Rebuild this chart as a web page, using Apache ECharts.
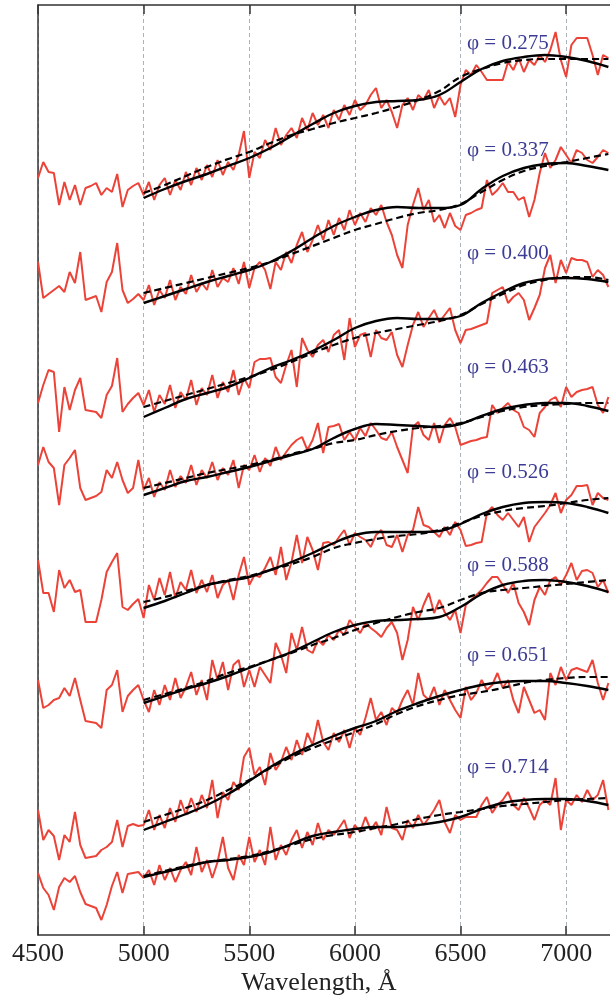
<!DOCTYPE html>
<html><head><meta charset="utf-8">
<script src="https://cdn.jsdelivr.net/npm/echarts@6/dist/echarts.min.js"></script>
<style>html,body{margin:0;padding:0;background:#fff}#chart{width:610px;height:999px}</style>
</head><body><div id="chart"></div>
<script>
// Wavelength grid of the observed spectra (Å)
const wavelength = [
4500,4525,4550,4575,4600,4625,4650,4675,4700,4725,4750,4775,4800,4825,4850,4875,4900,4925,4950,4975,
5000,5025,5050,5075,5100,5125,5150,5175,5200,5225,5250,5275,5300,5325,5350,5375,5400,5425,5450,5475,
5500,5525,5550,5575,5600,5625,5650,5675,5700,5725,5750,5775,5800,5825,5850,5875,5900,5925,5950,5975,
6000,6025,6050,6075,6100,6125,6150,6175,6200,6225,6250,6275,6300,6325,6350,6375,6400,6425,6450,6475,
6500,6525,6550,6575,6600,6625,6650,6675,6700,6725,6750,6775,6800,6825,6850,6875,6900,6925,6950,6975,
7000,7025,7050,7075,7100,7125,7150,7175,7200];
// Wavelength grid of the model curves (Å)
const modelWavelength = [5000,5100,5200,5300,5400,5500,5600,5700,5800,5900,6000,6100,6200,6300,6400,6500,6600,6700,6800,6900,7000,7100,7200];
const phases = ['0.275','0.337','0.400','0.463','0.526','0.588','0.651','0.714'];
const xTickLabels = [4500,5000,5500,6000,6500,7000];

// Observed spectra (relative flux, shifted, arbitrary units)
const flux_0275 = [
757,773,763,762,730,753,735,750,730,747,749,752,740,747,743,761,728,745,749,752,
740,753,735,750,757,740,755,745,763,750,767,755,770,758,775,760,773,765,780,804,
757,783,777,795,785,807,790,800,807,797,817,805,822,810,820,807,825,815,830,820,
835,825,830,840,847,827,835,823,807,830,837,825,840,835,845,827,839,830,837,818,
850,865,860,870,863,855,855,855,855,873,865,877,863,875,870,880,873,885,903,875,
858,890,897,897,897,880,860,880,877];
const flux_0337 = [
673,637,641,645,649,643,663,652,683,635,637,639,623,653,663,692,645,632,636,641,
635,650,630,645,637,655,635,648,641,660,643,652,645,665,648,657,653,667,651,673,
647,667,673,665,646,673,665,683,672,690,703,683,695,710,695,715,700,717,705,725,
710,722,713,727,720,730,713,700,680,667,710,730,747,725,735,713,720,707,722,709,
705,720,722,725,727,755,740,745,752,743,743,735,738,718,735,762,782,767,775,788,
780,772,785,782,775,772,778,785,782];
const flux_0400 = [
532,550,565,563,503,548,525,545,557,525,524,523,517,540,549,577,523,531,537,542,
530,545,523,540,531,550,527,543,535,555,530,547,540,560,537,553,543,565,540,557,
547,573,576,576,577,558,552,570,585,548,597,585,578,590,595,583,600,605,575,617,
588,600,602,578,605,597,595,603,580,568,590,610,623,608,617,625,613,620,627,605,
592,605,606,608,610,612,642,645,648,632,638,642,635,615,627,640,667,680,652,675,
662,677,675,675,673,658,665,660,648];
const flux_0463 = [
470,488,473,467,430,470,477,485,447,435,437,439,443,465,457,473,455,442,447,475,
445,457,438,453,445,465,448,459,452,470,450,465,457,473,455,467,460,475,447,470,
465,480,463,477,469,488,475,483,490,495,498,485,495,512,482,508,509,511,495,503,
495,507,499,512,505,497,495,503,488,475,462,508,513,500,495,512,492,510,517,508,
490,492,494,495,497,498,530,522,527,532,525,522,508,505,498,522,528,535,538,528,
548,538,543,545,546,548,530,522,538];
const flux_0526 = [
375,342,342,323,365,347,355,343,345,313,313,313,335,363,373,382,328,325,331,336,
317,350,335,357,340,363,337,353,345,365,342,355,343,360,337,350,355,335,360,378,
350,360,358,367,378,360,388,355,373,400,372,398,385,365,392,393,390,398,405,390,
402,398,395,388,400,405,390,388,400,383,400,405,428,410,408,403,398,408,400,413,
405,389,390,392,393,422,428,420,415,422,415,408,418,393,408,415,422,430,442,422,
435,440,449,449,450,430,442,437,435];
const flux_0588 = [
255,227,230,235,237,247,239,257,235,214,213,212,207,245,250,265,223,239,245,250,
235,223,245,230,250,235,257,237,248,263,240,255,235,275,255,273,245,270,275,248,
265,248,268,260,252,292,280,262,302,285,308,285,282,295,290,300,295,305,300,315,
308,302,312,307,303,298,307,313,302,275,295,328,315,330,342,322,335,323,315,325,
302,330,335,340,345,352,358,358,350,342,352,332,323,310,335,348,340,355,358,350,
360,372,355,364,365,362,348,355,342];
const flux_0651 = [
125,95,105,99,75,100,93,123,90,77,78,79,85,88,93,115,88,109,111,109,
110,125,105,120,107,127,113,135,120,137,123,140,127,155,117,143,135,153,145,178,
187,160,168,150,182,165,173,188,175,195,180,202,190,215,193,185,202,193,205,187,
207,200,217,237,215,223,210,227,222,235,245,230,262,240,235,248,230,245,235,225,
217,248,235,242,255,245,250,262,247,255,235,222,248,235,222,225,215,262,250,268,
255,265,267,265,263,275,252,235,252];
const flux_0714 = [
62,47,40,25,48,57,53,59,43,31,29,27,15,30,49,63,42,61,62,63,
57,65,50,70,55,67,53,65,73,60,88,63,75,57,73,98,67,55,80,70,
98,73,85,70,108,75,90,80,95,105,87,103,90,112,95,105,100,107,115,97,
110,103,118,105,113,100,128,107,105,95,115,107,120,110,117,125,135,113,102,120,
115,118,118,118,130,138,122,130,135,143,130,125,137,127,115,130,135,130,157,105,
135,130,140,133,145,135,140,155,125];

// Model fits: solid and dashed curves
const solid_0275 = [737,746,754,761,769,777,787,799,811,822,829,833,834,835,840,853,866,874,878,880,878,874,868];
const dashed_0275 = [742,750,759,768,776,783,792,800,806,812,817,822,828,835,844,858,866,872,875,876,876,876,876];
const solid_0337 = [632,639,646,653,659,665,673,684,697,709,718,725,728,727,727,730,746,759,767,771,772,769,765];
const dashed_0337 = [642,647,652,657,662,667,673,681,689,697,705,711,717,722,725,731,743,755,764,769,773,777,781];
const solid_0400 = [518,527,536,542,548,557,567,575,584,595,607,614,617,616,616,619,632,643,652,656,657,656,653];
const dashed_0400 = [528,534,540,546,552,558,565,573,582,590,597,602,606,610,614,620,631,641,650,655,658,658,655];
const solid_0463 = [440,447,454,458,463,468,474,480,486,497,506,511,510,509,508,511,519,526,530,532,532,529,524];
const dashed_0463 = [447,452,457,462,466,470,475,481,486,492,495,500,504,507,509,512,518,524,528,530,531,532,532];
const solid_0526 = [327,334,342,350,354,358,365,373,382,392,400,403,403,403,404,411,421,428,432,433,432,428,422];
const dashed_0526 = [333,338,344,350,355,359,365,371,378,387,392,396,399,401,405,412,419,424,427,429,432,435,437];
const solid_0588 = [232,239,246,252,259,267,275,283,293,303,310,314,315,316,318,328,341,350,354,355,353,349,343];
const dashed_0588 = [235,241,247,254,262,268,275,282,290,297,305,312,318,323,327,335,342,345,347,349,351,353,355];
const solid_0651 = [105,113,121,130,141,154,168,180,190,199,207,214,224,232,239,245,250,253,254,254,252,249,245];
const dashed_0651 = [113,120,127,135,145,155,167,178,187,195,203,211,221,229,235,240,243,247,252,255,257,258,258];
const solid_0714 = [58,63,68,73,75,78,83,91,99,103,106,108,108,110,113,118,126,132,135,136,136,134,130];
const dashed_0714 = [59,64,69,73,76,79,84,90,96,100,103,107,111,116,120,123,126,129,131,133,135,136,137];

const spectra = [flux_0275, flux_0337, flux_0400, flux_0463, flux_0526, flux_0588, flux_0651, flux_0714];
const solids = [solid_0275, solid_0337, solid_0400, solid_0463, solid_0526, solid_0588, solid_0651, solid_0714];
const dasheds = [dashed_0275, dashed_0337, dashed_0400, dashed_0463, dashed_0526, dashed_0588, dashed_0651, dashed_0714];

const serif = '"Liberation Serif", "DejaVu Serif", serif';
const labelY = [43, 150, 253, 367, 472, 565, 655, 767];

const series = [];
spectra.forEach((f, k) => series.push({
  type: 'line', name: 'obs ' + phases[k], data: wavelength.map((w, i) => [w, f[i]]),
  showSymbol: false, silent: true, z: 2,
  lineStyle: { color: '#ec4339', width: 2 }
}));
dasheds.forEach((f, k) => series.push({
  type: 'line', name: 'model2 ' + phases[k], data: modelWavelength.map((w, i) => [w, f[i]]),
  showSymbol: false, silent: true, smooth: 0.4, z: 3,
  lineStyle: { color: '#000', width: 2.2, type: [7, 4] }
}));
solids.forEach((f, k) => series.push({
  type: 'line', name: 'model1 ' + phases[k], data: modelWavelength.map((w, i) => [w, f[i]]),
  showSymbol: false, silent: true, smooth: 0.4, z: 4,
  lineStyle: { color: '#000', width: 2.4 }
}));

const chart = echarts.init(document.getElementById('chart'), null, { renderer: 'canvas' });
const axisColor = '#333';
chart.setOption({
  animation: false,
  backgroundColor: '#fff',
  grid: { left: 38, top: 5, width: 633.75, height: 930, containLabel: false, outerBoundsMode: 'none' },
  xAxis: [{
    type: 'value', min: 4500, max: 7500, interval: 500, position: 'bottom',
    axisLine: { show: true, onZero: false, lineStyle: { color: axisColor, width: 1.5 } },
    axisTick: { show: true, inside: true, length: 9, lineStyle: { color: axisColor, width: 1.5 } },
    axisLabel: { show: true, fontFamily: serif, fontSize: 26, color: '#222', margin: 6,
      formatter: v => xTickLabels.includes(v) ? String(v) : '' },
    splitLine: { show: true, lineStyle: { color: '#aab2ba', width: 1, type: [4, 3] } }
  }, {
    type: 'value', min: 4500, max: 7500, interval: 500, position: 'top',
    axisLine: { show: true, onZero: false, lineStyle: { color: axisColor, width: 1.5 } },
    axisTick: { show: true, inside: true, length: 9, lineStyle: { color: axisColor, width: 1.5 } },
    axisLabel: { show: false }, splitLine: { show: false }
  }],
  yAxis: {
    type: 'value', min: 0, max: 930,
    axisLine: { show: true, lineStyle: { color: axisColor, width: 1.5 } },
    axisTick: { show: false }, axisLabel: { show: false }, splitLine: { show: false }
  },
  series: series,
  graphic: phases.map((p, k) => ({
    type: 'text', x: 467, y: labelY[k], z: 10,
    style: { text: 'φ = ' + p, font: '21px ' + serif, fill: '#3c3c96', verticalAlign: 'middle', textVerticalAlign: 'middle' }
  })).concat([{
    type: 'text', x: 319, y: 983, z: 10,
    style: { text: 'Wavelength, Å', font: '26px ' + serif, fill: '#222', align: 'center', textAlign: 'center', verticalAlign: 'middle', textVerticalAlign: 'middle' }
  }])
});
</script>
</body></html>
